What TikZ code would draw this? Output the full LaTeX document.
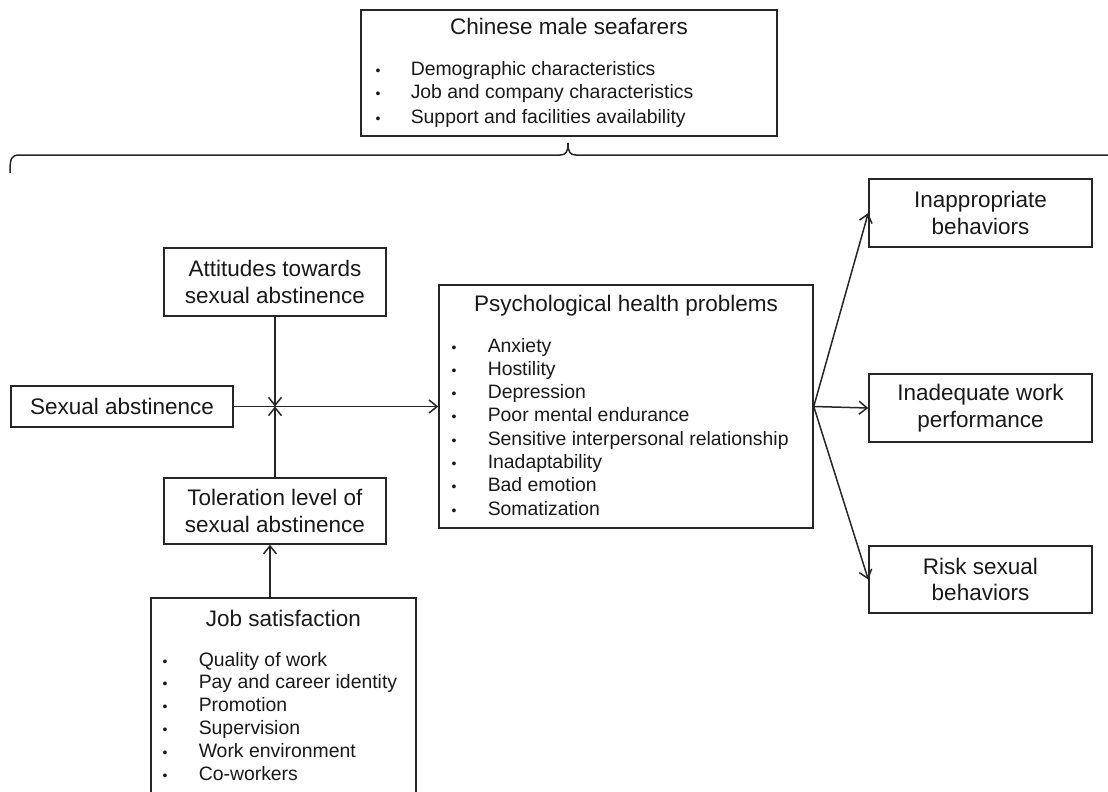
\documentclass[tikz,border=0pt]{standalone}
\usepackage{fontspec}
\setmainfont{Liberation Sans}
\usetikzlibrary{arrows.meta}
\begin{document}
\begin{tikzpicture}[
    x=1pt,y=-1pt,line width=1.5pt,
    every node/.style={inner sep=0pt,text=black!90,
        font=\fontsize{22.5}{26.5}\selectfont},
    box/.style={draw=black!85,align=center},
    title/.style={anchor=base},
    item/.style={anchor=base west,font=\fontsize{19.4}{23.3}\selectfont},
    dot/.style={anchor=base,font=\fontsize{14}{14}\selectfont},
    arr/.style={draw=black!85,-{Straight Barb[length=8pt,width=13pt]}}]
    \path[use as bounding box,clip] (0,0) rectangle (1108,792);
    % top box and brace
    \node[box,minimum width=416,minimum height=126] (crew) at (569,73) {};
    \node[title] (crewt) at (569,35) {Chinese male seafarers};
    \foreach \t [count=\i from 0] in {Demographic characteristics,
        Job and company characteristics,Support and facilities availability} {
        \node[dot] (crewd\i) at (378,{75+24*\i}) {•};
        \node[item] (crewi\i) at (410,{75+24*\i}) {\t};
    }
    \draw[black!85] (10,173) .. controls (10,158) and (11,155) .. (20,155)
        -- (560,155) .. controls (566,155) and (568,152) .. (568,143)
        .. controls (568,152) and (570,155) .. (576,155) -- (1115,155);
    % left side
    \node[box,minimum width=222,minimum height=68] (att) at (275,282)
        {Attitudes towards\\sexual abstinence};
    \node[box,minimum width=222,minimum height=41] (sab) at (122,406.5)
        {Sexual abstinence};
    \node[box,minimum width=222,minimum height=66] (tol) at (275,511)
        {Toleration level of\\sexual abstinence};
    \node[box,minimum width=265,minimum height=210] (job) at (283.5,703) {};
    \node[title] (jobt) at (283.5,626) {Job satisfaction};
    \foreach \t [count=\i from 0] in {Quality of work,Pay and career identity,
        Promotion,Supervision,Work environment,Co-workers} {
        \node[dot] (jobd\i) at (165,{666+22.8*\i}) {•};
        \node[item] (jobi\i) at (198,{666+22.8*\i}) {\t};
    }
    % middle box
    \node[box,minimum width=374,minimum height=243] (psy) at (626,406.5) {};
    \node[title] (psyt) at (626,311) {Psychological health problems};
    \foreach \t [count=\i from 0] in {Anxiety,Hostility,Depression,
        Poor mental endurance,Sensitive interpersonal relationship,
        Inadaptability,Bad emotion,Somatization} {
        \node[dot] (psyd\i) at (454,{352+23.3*\i}) {•};
        \node[item] (psyi\i) at (487,{352+23.3*\i}) {\t};
    }
    % outcomes
    \node[box,minimum width=223,minimum height=68] (inap) at (980.5,213)
        {Inappropriate\\behaviors};
    \node[box,minimum width=223,minimum height=68] (inad) at (980.5,408)
        {Inadequate work\\performance};
    \node[box,minimum width=223,minimum height=67] (risk) at (980.5,579.5)
        {Risk sexual\\behaviors};
    % arrows
    \coordinate (mid) at (att.south |- sab.east);
    \coordinate (jobtop) at ([xshift=-13.5]job.north);
    \draw[arr] (sab.east) -- (psy.west);
    \draw[arr] (att.south) -- (mid);
    \draw[arr] (tol.north) -- (mid);
    \draw[arr] (jobtop) -- (jobtop |- tol.south);
    \draw[arr] (psy.east) -- (inap.west);
    \draw[arr] (psy.east) -- (inad.west);
    \draw[arr] (psy.east) -- (risk.west);
\end{tikzpicture}
\end{document}
